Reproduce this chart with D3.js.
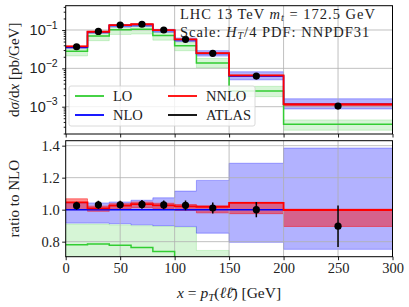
<!DOCTYPE html>
<html>
<head>
<meta charset="utf-8">
<script src="https://cdn.jsdelivr.net/npm/d3@7"></script>
<style>
body { margin: 0; background: #fff; }
svg { display: block; font-family: 'Liberation Serif', serif; }
</style>
</head>
<body>
<div id="chart"></div>
<script>
// bins in pT(ll) [GeV]
const binEdges = [0, 20, 40, 60, 80, 100, 120, 150, 200, 300]
// NLO central, pb/GeV
const nlo = [0.0357, 0.0893, 0.131, 0.1365, 0.0971, 0.0555, 0.02445, 0.0063, 0.00116]
// everything below is a ratio to NLO central
const nloLo = [0.916, 0.916, 0.912, 0.905, 0.90, 0.895, 0.853, 0.796, 0.752]
const nloHi = [1.042, 1.042, 1.048, 1.059, 1.074, 1.116, 1.183, 1.29, 1.385]
const nnlo = [1.045, 1.008, 1.025, 1.035, 1.027, 1.02, 1.017, 1.042, 0.998]
const nnloLo = [1.0, 0.99, 1.005, 1.012, 1.008, 0.995, 0.98, 0.975, 0.895]
const nnloHi = [1.068, 1.022, 1.037, 1.047, 1.04, 1.032, 1.025, 1.046, 1.003]
const lo = [0.781, 0.785, 0.777, 0.764, 0.739, 0.70, 0.56, 0.41, 0.30]
const loLo = [0.59, 0.59, 0.585, 0.575, 0.56, 0.52, 0.42, 0.29, 0.21]
const loHi = [0.91, 0.91, 0.905, 0.90, 0.895, 0.89, 0.745, 0.54, 0.39]
// ATLAS data, pb/GeV, and its error as a ratio
const atlas = [0.0366, 0.092, 0.135, 0.141, 0.1, 0.057, 0.0247, 0.0063, 0.00104]
const atlasErr = [0.025, 0.025, 0.025, 0.027, 0.027, 0.03, 0.035, 0.048, 0.13]

const xTicks = [0, 50, 100, 150, 200, 250, 300]
const ratioTicks = [0.8, 1.0, 1.2, 1.4]
const logTicks = [-3, -2, -1]

const colors = { lo: '#32cd32', nlo: '#0000ff', nnlo: '#ff0000', data: '#000000' }

const width = 409, height = 307
const left = 65.7, right = 392.5
const top1 = [5.7, 134], bot1 = [140.7, 256.7]

const x = d3.scaleLinear().domain([0, 300]).range([left, right])
const yTop = d3.scaleLog().domain([1.94e-4, 0.43]).range([top1[1], top1[0]])
const yBot = d3.scaleLinear().domain([0.706, 1.431]).range([bot1[1], bot1[0]])

const svg = d3.select('#chart').append('svg')
    .attr('width', width).attr('height', height)
    .attr('viewBox', `0 0 ${width} ${height}`)
    .attr('xmlns', 'http://www.w3.org/2000/svg')

const defs = svg.append('defs')
defs.append('clipPath').attr('id', 'clipTop').append('rect')
    .attr('x', left).attr('y', top1[0]).attr('width', right - left).attr('height', top1[1] - top1[0])
defs.append('clipPath').attr('id', 'clipBot').append('rect')
    .attr('x', left).attr('y', bot1[0]).attr('width', right - left).attr('height', bot1[1] - bot1[0])

// step helpers: one point per bin edge, last value repeated
const steps = vals => binEdges.map((e, i) => ({ x: e, v: vals[Math.min(i, vals.length - 1)] }))
const bandSteps = (lo, hi) => binEdges.map((e, i) => {
    const k = Math.min(i, lo.length - 1)
    return { x: e, lo: lo[k], hi: hi[k] }
})
const centres = binEdges.slice(0, -1).map((e, i) => (e + binEdges[i + 1]) / 2)
const mul = (a, b) => a.map((v, i) => v * b[i])

function drawPanel(g, y, clipId, series) {
    const area = d3.area().curve(d3.curveStepAfter)
        .x(d => x(d.x)).y0(d => y(d.lo)).y1(d => y(d.hi))
    const line = d3.line().curve(d3.curveStepAfter).x(d => x(d.x)).y(d => y(d.v))
    const plot = g.append('g').attr('clip-path', `url(#${clipId})`)

    // bands
    plot.append('path').attr('d', area(bandSteps(series.loLo, series.loHi)))
        .attr('fill', colors.lo).attr('fill-opacity', 0.2)
        .attr('stroke', colors.lo).attr('stroke-opacity', 0.2)
    plot.append('path').attr('d', area(bandSteps(series.nloLo, series.nloHi)))
        .attr('fill', colors.nlo).attr('fill-opacity', 0.3)
        .attr('stroke', colors.nlo).attr('stroke-opacity', 0.3)
    plot.append('path').attr('d', area(bandSteps(series.nnloLo, series.nnloHi)))
        .attr('fill', colors.nnlo).attr('fill-opacity', 0.45)
        .attr('stroke', colors.nnlo).attr('stroke-opacity', 0.45)

    // grid
    const [yb, yt] = y.range()
    plot.append('g').selectAll('line').data(xTicks.slice(1, -1)).join('line')
        .attr('x1', d => x(d)).attr('x2', d => x(d)).attr('y1', yb).attr('y2', yt)
        .attr('stroke', '#b0b0b0').attr('stroke-width', 0.8)
    plot.append('g').selectAll('line').data(series.gridY).join('line')
        .attr('x1', left).attr('x2', right).attr('y1', d => y(d)).attr('y2', d => y(d))
        .attr('stroke', '#b0b0b0').attr('stroke-width', 0.8)

    // lines
    plot.append('path').attr('d', line(steps(series.lo))).attr('fill', 'none')
        .attr('stroke', colors.lo).attr('stroke-width', 1.5)
    plot.append('path').attr('d', line(steps(series.nlo))).attr('fill', 'none')
        .attr('stroke', colors.nlo).attr('stroke-width', 1.5)
    plot.append('path').attr('d', line(steps(series.nnlo))).attr('fill', 'none')
        .attr('stroke', colors.nnlo).attr('stroke-width', 1.8)

    // data points with error bars
    const pts = centres.map((c, i) => ({ c, v: series.data[i], lo: series.dataLo[i], hi: series.dataHi[i] }))
    plot.append('g').selectAll('line').data(pts).join('line')
        .attr('x1', d => x(d.c)).attr('x2', d => x(d.c))
        .attr('y1', d => y(d.lo)).attr('y2', d => y(d.hi))
        .attr('stroke', colors.data).attr('stroke-width', 1.5)
    plot.append('g').selectAll('circle').data(pts).join('circle')
        .attr('cx', d => x(d.c)).attr('cy', d => y(d.v)).attr('r', 3.6)
        .attr('fill', colors.data)

    // frame
    g.append('rect').attr('x', left).attr('y', yt).attr('width', right - left).attr('height', yb - yt)
        .attr('fill', 'none').attr('stroke', '#000').attr('stroke-width', 1)
}

const ones = nlo.map(() => 1)
const atlasRatio = atlas.map((v, i) => v / nlo[i])

// top panel, absolute values
const gTop = svg.append('g')
drawPanel(gTop, yTop, 'clipTop', {
    lo: mul(lo, nlo), loLo: mul(loLo, nlo), loHi: mul(loHi, nlo),
    nlo: nlo, nloLo: mul(nloLo, nlo), nloHi: mul(nloHi, nlo),
    nnlo: mul(nnlo, nlo), nnloLo: mul(nnloLo, nlo), nnloHi: mul(nnloHi, nlo),
    data: atlas,
    dataLo: atlas.map((v, i) => v - atlasErr[i] * nlo[i]),
    dataHi: atlas.map((v, i) => v + atlasErr[i] * nlo[i]),
    gridY: logTicks.map(p => Math.pow(10, p))
})

// bottom panel, ratio to NLO
const gBot = svg.append('g')
drawPanel(gBot, yBot, 'clipBot', {
    lo, loLo, loHi,
    nlo: ones, nloLo, nloHi,
    nnlo, nnloLo, nnloHi,
    data: atlasRatio,
    dataLo: atlasRatio.map((v, i) => v - atlasErr[i]),
    dataHi: atlasRatio.map((v, i) => v + atlasErr[i]),
    gridY: ratioTicks
})

// axes
const styleAxis = sel => {
    sel.select('.domain').remove()
    sel.selectAll('line').attr('stroke', '#000').attr('stroke-width', 0.9)
    sel.selectAll('text').attr('font-size', 14.5).attr('fill', '#222')
        .attr('font-family', "'Liberation Serif', serif")
}

svg.append('g').attr('transform', `translate(0,${top1[1]})`)
    .call(d3.axisBottom(x).tickValues(xTicks).tickFormat('').tickSize(3.5))
    .call(styleAxis)
svg.append('g').attr('transform', `translate(0,${bot1[1]})`)
    .call(d3.axisBottom(x).tickValues(xTicks).tickFormat(d3.format('d')).tickSize(3.5).tickPadding(3))
    .call(styleAxis)

const minor = []
for (let p = -4; p <= -1; p++) for (let m = 2; m <= 9; m++) {
    const v = m * Math.pow(10, p)
    if (v > yTop.domain()[0] && v < yTop.domain()[1]) minor.push(v)
}
svg.append('g').attr('transform', `translate(${left},0)`)
    .call(d3.axisLeft(yTop).tickValues(minor).tickFormat('').tickSize(2))
    .call(styleAxis)
const yTopAxis = svg.append('g').attr('transform', `translate(${left},0)`)
    .call(d3.axisLeft(yTop).tickValues(logTicks.map(p => Math.pow(10, p))).tickFormat('').tickSize(3.5))
    .call(styleAxis)
yTopAxis.selectAll('.tick').append('text')
    .attr('x', -8).attr('dy', '0.32em').attr('text-anchor', 'end')
    .attr('font-size', 14.5).attr('fill', '#222')
    .each(function (d) {
        const t = d3.select(this)
        t.append('tspan').text('10')
        t.append('tspan').attr('dy', -6.5).attr('font-size', 10.5)
            .text('\u2212' + Math.round(-Math.log10(d)))
    })

svg.append('g').attr('transform', `translate(${left},0)`)
    .call(d3.axisLeft(yBot).tickValues(ratioTicks).tickFormat(d3.format('.1f')).tickSize(3.5).tickPadding(2.5))
    .call(styleAxis)

// axis labels
const yl1 = svg.append('text')
    .attr('transform', `translate(19,${(top1[0] + top1[1]) / 2}) rotate(-90)`)
    .attr('text-anchor', 'middle').attr('font-size', 15).attr('fill', '#222')
yl1.append('tspan').text('d')
yl1.append('tspan').attr('font-style', 'italic').text('\u03c3')
yl1.append('tspan').text('/d')
yl1.append('tspan').attr('font-style', 'italic').text('x')
yl1.append('tspan').text(' [pb/GeV]')

svg.append('text')
    .attr('transform', `translate(19,${(bot1[0] + bot1[1]) / 2}) rotate(-90)`)
    .attr('text-anchor', 'middle').attr('font-size', 15).attr('fill', '#222')
    .text('ratio to NLO')

// subscripts shift by px so the baseline comes back exactly
const sub = (t, s, size, shift) => {
    t.append('tspan').attr('font-style', 'italic').attr('font-size', size).attr('dy', shift).text(s)
}
const xl = svg.append('text').attr('x', (left + right) / 2).attr('y', 298)
    .attr('text-anchor', 'middle').attr('font-size', 15.5).attr('fill', '#222')
xl.append('tspan').attr('font-style', 'italic').text('x')
xl.append('tspan').text(' = ')
xl.append('tspan').attr('font-style', 'italic').text('p')
sub(xl, 'T', 11, 3)
xl.append('tspan').attr('dy', -3).text('(')
xl.append('tspan').attr('font-style', 'italic').text('\u2113\u2113\u0304')
xl.append('tspan').text(') [GeV]')

// annotation, two lines in one text
const ann = svg.append('text').attr('font-size', 14.5).attr('fill', '#222').attr('letter-spacing', 1)
ann.append('tspan').attr('x', 180).attr('y', 19).text('LHC 13 TeV ')
ann.append('tspan').attr('font-style', 'italic').text('m')
sub(ann, 't', 10, 2)
ann.append('tspan').attr('dy', -2).text(' = 172.5 GeV')
ann.append('tspan').attr('x', 180).attr('y', 36.5).text('Scale: ')
ann.append('tspan').attr('font-style', 'italic').text('H')
sub(ann, 'T', 10, 2)
ann.append('tspan').attr('dy', -2).text('/4 PDF: NNPDF31')

// legend
const legendItems = [
    { name: 'LO', color: colors.lo, col: 0, row: 0 },
    { name: 'NLO', color: colors.nlo, col: 0, row: 1 },
    { name: 'NNLO', color: colors.nnlo, col: 1, row: 0 },
    { name: 'ATLAS', color: colors.data, col: 1, row: 1 }
]
const leg = svg.append('g')
leg.append('rect').attr('x', 69).attr('y', 86).attr('width', 186).attr('height', 40).attr('rx', 2)
    .attr('fill', '#fff').attr('fill-opacity', 0.8).attr('stroke', '#d0d0d0').attr('stroke-width', 0.8)
const li = leg.selectAll('g.item').data(legendItems).join('g')
    .attr('transform', d => `translate(${75 + d.col * 93},${96 + d.row * 19})`)
li.append('line').attr('x1', 0).attr('x2', 29).attr('stroke', d => d.color).attr('stroke-width', 1.8)
li.append('text').attr('x', 38).attr('dy', '0.33em').attr('font-size', 14.5).attr('fill', '#222')
    .text(d => d.name)
</script>
</body>
</html>
